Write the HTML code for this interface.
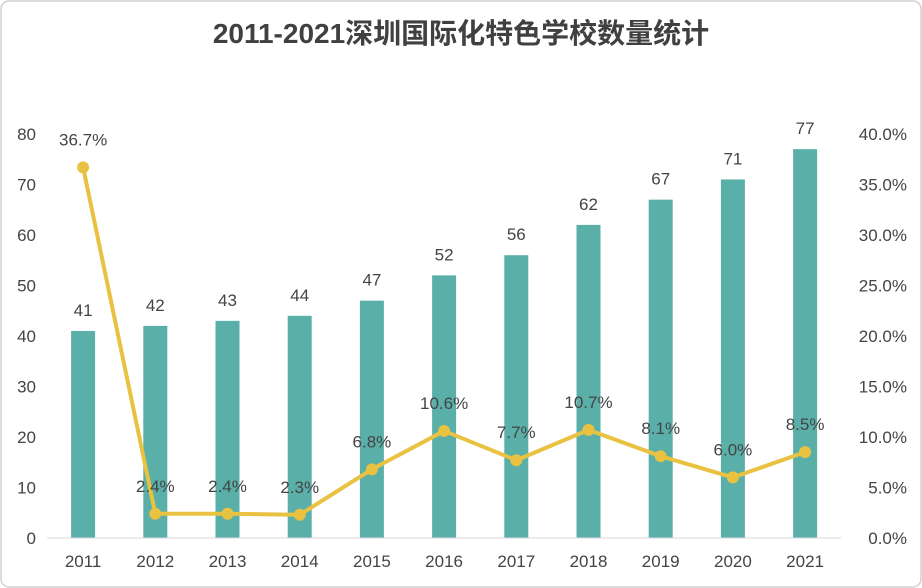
<!DOCTYPE html>
<html><head><meta charset="utf-8"><style>
body{margin:0;background:#fff;}
svg{display:block;font-family:"Liberation Sans","Noto Sans CJK SC",sans-serif;}
</style></head><body>
<svg id="c" width="922" height="588">
<rect x="1" y="1" width="920" height="586" rx="8" fill="#fff" stroke="#d0d0d0" stroke-width="1.5"/>
<text x="461" y="43" text-anchor="middle" font-size="28" font-weight="bold" fill="#404040">2011-2021深圳国际化特色学校数量统计</text>
<g id="g"></g>
</svg>
<script>
const categories=["2011","2012","2013","2014","2015","2016","2017","2018","2019","2020","2021"];
const schoolCounts=[41,42,43,44,47,52,56,62,67,71,77];
const growthRates=[36.7,2.4,2.4,2.3,6.8,10.6,7.7,10.7,8.1,6.0,8.5];
const leftTicks=[0,10,20,30,40,50,60,70,80];
const rightTicks=[0,5,10,15,20,25,30,35,40];
const NS="http://www.w3.org/2000/svg";
const g=document.getElementById('g');
const x0=47,band=72.2,yBase=538,yTop=134;
const xc=i=>x0+band*(i+0.5);
const yL=v=>yBase-(v/80)*(yBase-yTop);
const yR=v=>yBase-(v/40)*(yBase-yTop);
function el(t,a){const e=document.createElementNS(NS,t);for(const k in a)e.setAttribute(k,a[k]);g.appendChild(e);return e;}
leftTicks.forEach(v=>{const t=el('text',{x:36,y:yL(v)+6,'text-anchor':'end','font-size':17,fill:'#444'});t.textContent=v;

});
rightTicks.forEach(v=>{const t=el('text',{x:907,y:yR(v)+6,'text-anchor':'end','font-size':17,fill:'#444'});t.textContent=v.toFixed(1)+'%';

});
categories.forEach((c,i)=>{const t=el('text',{x:xc(i),y:567,'text-anchor':'middle','font-size':17,fill:'#444'});t.textContent=c;

});
schoolCounts.forEach((v,i)=>{const r=el('rect',{x:xc(i)-12,y:yL(v),width:24,height:yBase-yL(v),fill:'#5AAFA9'});


const t=el('text',{x:xc(i),y:yL(v)-15,'text-anchor':'middle','font-size':17,fill:'#444'});t.textContent=v;

});
const ax=el('line',{x1:x0,x2:x0+band*11,y1:yBase,y2:yBase,stroke:'#d9d9d9','stroke-width':1});


const pl=el('polyline',{points:growthRates.map((v,i)=>xc(i)+','+yR(v)).join(' '),fill:'none',stroke:'#E8C240','stroke-width':4,'stroke-linejoin':'round'});


growthRates.forEach((v,i)=>{const p=el('circle',{cx:xc(i),cy:yR(v),r:6,fill:'#E8C240'});


const t=el('text',{x:xc(i),y:yR(v)-22,'text-anchor':'middle','font-size':17,fill:'#444'});t.textContent=v.toFixed(1)+'%';

});
</script>
</body></html>
